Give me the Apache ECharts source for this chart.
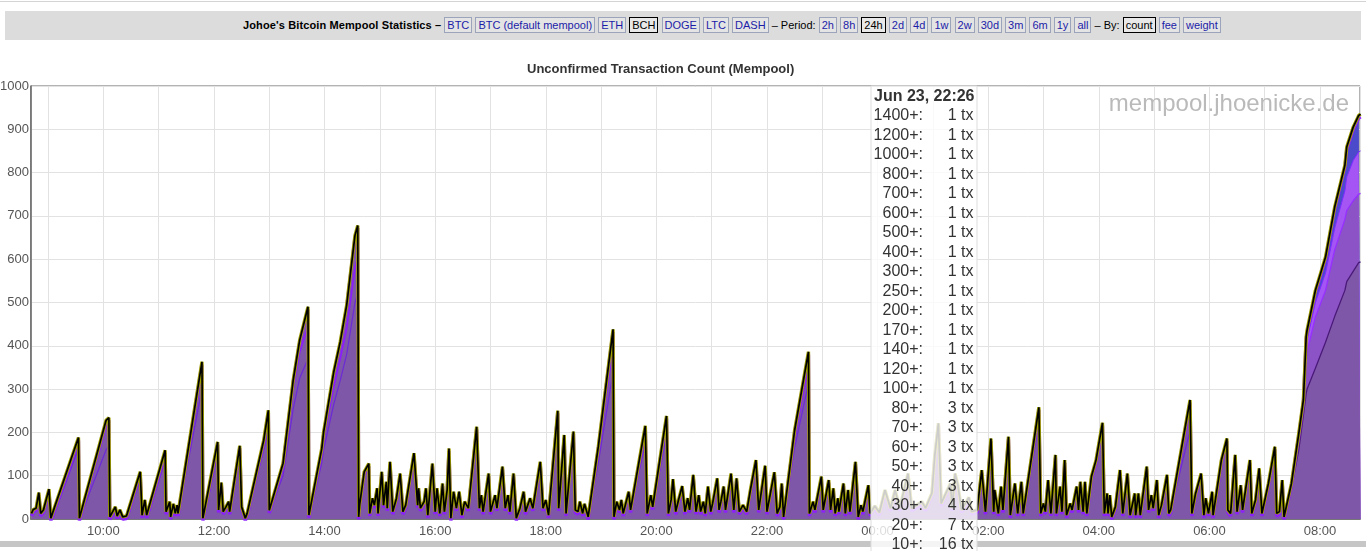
<!DOCTYPE html>
<html>
<head>
<meta charset="utf-8">
<script src="https://cdn.jsdelivr.net/npm/echarts@6/dist/echarts.min.js"></script>
<style>
  html, body { margin:0; padding:0; background:#fff; width:1366px; height:551px; overflow:hidden; }
  #topline { position:absolute; left:0; top:1px; width:1366px; height:1px; background:#d4d4d4; }
  #hdr { position:absolute; left:5px; top:11px; width:1356px; height:29px; background:#dcdcdc; z-index:2;
         font:11px 'Liberation Sans', Arial, sans-serif; color:#000; }
  #hdr .inner { position:absolute; left:238px; top:6px; white-space:nowrap; }
  #hdr b { letter-spacing:0.12px; }
  #hdr a { display:inline-block; border:1px solid #9ba4bb; padding:0 2px; color:#1c1ca8; background:#e4e4e4; line-height:14px; }
  #hdr a.sel { border-color:#000; color:#000; background:#e8e8e8; }
  #chart { position:absolute; left:0; top:0; width:1366px; height:551px; }
</style>
</head>
<body>
<div id="topline"></div>
<div id="chart"></div>
<div id="hdr"><span class="inner"><b>Johoe's Bitcoin Mempool Statistics –</b> <a>BTC</a> <a>BTC (default mempool)</a> <a>ETH</a> <a class="sel">BCH</a> <a>DOGE</a> <a>LTC</a> <a>DASH</a> – Period: <a>2h</a> <a>8h</a> <a class="sel">24h</a> <a>2d</a> <a>4d</a> <a>1w</a> <a>2w</a> <a>30d</a> <a>3m</a> <a>6m</a> <a>1y</a> <a>all</a> – By: <a class="sel">count</a> <a>fee</a> <a>weight</a></span></div>
<script>
// time in minutes since Jun 22 00:00, value = unconfirmed tx count
const totalPts = [[522,13],[524,22],[527,25],[530,61],[532,13],[535,21],[537,25],[541,69],[543,2],[545,2],[573,188],[574,2],[575,5],[603,228],[606,234],[607,5],[613,28],[615,7],[618,21],[621,5],[625,7],[626,13],[640,109],[642,9],[645,44],[647,9],[649,13],[667,159],[668,17],[672,40],[673,5],[676,35],[678,13],[680,32],[681,13],[707,363],[708,2],[709,2],[724,178],[725,21],[728,84],[730,17],[733,28],[736,40],[737,17],[748,169],[750,28],[752,32],[754,2],[756,13],[774,182],[779,251],[780,20],[795,129],[806,321],[813,413],[822,490],[823,9],[824,13],[837,163],[839,201],[850,340],[857,409],[864,494],[873,655],[876,678],[877,5],[878,32],[883,109],[888,128],[889,13],[892,48],[894,32],[897,71],[898,13],[902,109],[904,32],[907,86],[908,25],[911,132],[914,17],[918,48],[922,105],[925,17],[928,32],[937,152],[941,32],[942,71],[944,25],[948,40],[950,71],[952,9],[957,128],[960,17],[962,71],[965,13],[968,82],[970,17],[973,67],[975,163],[977,2],[980,63],[983,25],[986,63],[989,9],[992,40],[996,25],[1005,213],[1008,25],[1010,55],[1012,17],[1018,105],[1020,17],[1025,55],[1027,25],[1033,121],[1036,25],[1039,55],[1041,17],[1045,105],[1048,2],[1052,25],[1056,63],[1058,17],[1063,48],[1066,25],[1074,132],[1077,25],[1080,44],[1083,9],[1093,250],[1094,25],[1100,194],[1102,13],[1110,202],[1112,21],[1115,17],[1117,40],[1120,13],[1122,35],[1126,5],[1137,167],[1153,438],[1154,5],[1157,40],[1160,21],[1162,44],[1164,13],[1170,63],[1172,21],[1188,215],[1190,13],[1194,55],[1196,28],[1211,238],[1213,13],[1216,44],[1218,92],[1221,17],[1224,44],[1228,76],[1231,17],[1234,48],[1236,21],[1240,102],[1243,17],[1246,55],[1248,17],[1251,40],[1253,13],[1256,75],[1259,17],[1261,36],[1266,94],[1268,21],[1270,40],[1273,75],[1275,21],[1281,105],[1284,21],[1287,94],[1290,17],[1294,32],[1298,17],[1302,67],[1308,136],[1311,21],[1318,123],[1320,17],[1328,108],[1331,13],[1334,28],[1336,82],[1338,5],[1350,205],[1365,386],[1366,13],[1370,40],[1372,21],[1379,98],[1381,21],[1387,90],[1389,21],[1392,71],[1394,13],[1397,48],[1398,17],[1403,82],[1405,13],[1408,67],[1410,17],[1416,132],[1419,5],[1422,32],[1424,17],[1430,78],[1432,13],[1437,30],[1442,15],[1448,67],[1454,25],[1459,67],[1464,25],[1473,105],[1477,25],[1488,40],[1492,25],[1499,60],[1502,145],[1506,221],[1509,36],[1519,82],[1521,25],[1524,105],[1527,80],[1531,21],[1539,50],[1542,17],[1548,21],[1553,113],[1557,17],[1563,186],[1566,17],[1567,67],[1571,13],[1574,75],[1576,21],[1582,190],[1584,9],[1589,82],[1592,13],[1596,86],[1598,13],[1615,258],[1617,13],[1620,36],[1622,17],[1625,90],[1628,13],[1633,148],[1634,13],[1638,75],[1640,17],[1643,136],[1645,9],[1649,36],[1651,21],[1656,75],[1658,21],[1660,86],[1663,17],[1665,86],[1667,13],[1672,98],[1677,136],[1684,222],[1686,13],[1689,59],[1690,13],[1692,55],[1694,5],[1698,28],[1703,113],[1706,13],[1711,105],[1714,9],[1719,59],[1720,9],[1723,59],[1725,9],[1732,121],[1734,21],[1737,55],[1739,25],[1743,90],[1745,9],[1748,32],[1754,102],[1756,13],[1758,21],[1779,275],[1781,13],[1785,59],[1791,105],[1794,9],[1796,48],[1799,13],[1803,63],[1804,9],[1813,136],[1819,186],[1820,21],[1823,13],[1828,148],[1830,17],[1834,78],[1836,21],[1844,136],[1846,13],[1850,44],[1854,117],[1857,13],[1864,82],[1871,167],[1873,13],[1876,17],[1879,90],[1881,5],[1889,82],[1897,198],[1902,275],[1905,421],[1906,436],[1915,528],[1926,605],[1936,721],[1947,817],[1949,859],[1956,905],[1962,932],[1964,935]];

// upper fee-level lines visible inside the large ramps
const violetHiSegs = [
  [[545,2],[573,178]], [[575,5],[603,215],[606,222]], [[626,13],[640,100]], [[649,13],[667,150]],
  [[681,13],[707,340]], [[709,2],[724,165]], [[737,17],[748,158]], [[756,13],[774,172],[779,236]],
  [[780,20],[795,118],[806,300],[813,385],[822,445]],
  [[824,12],[837,150],[839,185],[850,305],[857,370],[864,440],[873,580],[876,605]],
  [[996,25],[1005,195]], [[1083,9],[1093,230]],
  [[1126,5],[1137,150],[1153,400]], [[1172,21],[1188,195]], [[1196,28],[1211,220]],
  [[1338,5],[1350,185],[1365,355]], [[1598,13],[1615,240]], [[1758,21],[1779,248]]
];
const violetLoSegs = [
  [[545,2],[573,163]], [[575,5],[603,160],[606,169]], [[626,12],[640,88]], [[649,12],[667,135]],
  [[681,12],[707,300]], [[709,2],[724,150]], [[737,16],[748,145]], [[756,12],[774,160],[779,205]],
  [[780,18],[795,100],[806,255],[813,325],[822,370]],
  [[824,10],[837,130],[839,160],[850,265],[857,320],[864,380],[873,500],[876,520]],
  [[1126,5],[1137,130],[1153,340]], [[1172,20],[1188,175]], [[1196,26],[1211,195]],
  [[1338,5],[1350,165],[1365,313]], [[1598,12],[1615,220]], [[1758,20],[1779,205]]
];

// final ramp: fee-level band boundaries
const finalMin      = [1881,1889,1897,1902,1905,1906,1915,1926,1936,1947,1949,1956,1962,1964];
const blueBandLow   = [5, 80, 192, 268, 405, 414, 500, 568, 672, 758, 790, 828, 848, 850];
const violetBandLow = [5, 78, 185, 258, 372, 386, 466, 528, 622, 692, 712, 735, 750, 752];
const purpleBase    = [5, 70, 160, 240, 290, 300, 348, 408, 468, 528, 548, 572, 592, 594];

// hover legend
const tipTitle  = 'Jun 23, 22:26';
const tipLevels = ['1400+:','1200+:','1000+:','800+:','700+:','600+:','500+:','400+:','300+:','250+:','200+:','170+:','140+:','120+:','100+:','80+:','70+:','60+:','50+:','40+:','30+:','20+:','10+:'];
const tipCounts = ['1 tx','1 tx','1 tx','1 tx','1 tx','1 tx','1 tx','1 tx','1 tx','1 tx','1 tx','1 tx','1 tx','1 tx','1 tx','3 tx','3 tx','3 tx','3 tx','3 tx','4 tx','7 tx','16 tx'];

const BASE = Date.UTC(2018, 5, 22);
const MIN = 60000;
const FONT = "'Liberation Sans', Arial, sans-serif";
const toData = pts => pts.map(p => [BASE + p[0] * MIN, p[1]]);
function segData(segs) {
  const out = [];
  segs.forEach((s, i) => {
    if (i) out.push([BASE + (s[0][0] - 0.5) * MIN, '-']);
    s.forEach(p => out.push([BASE + p[0] * MIN, p[1]]));
  });
  return out;
}
const zipFinal = arr => finalMin.map((m, i) => [BASE + m * MIN, arr[i]]);
const finalTop = toData(totalPts.filter(p => p[0] >= finalMin[0]));
const pad = n => (n < 10 ? '0' : '') + n;

const chart = echarts.init(document.getElementById('chart'), null, { renderer: 'canvas' });

const common = { type: 'line', symbol: 'none', showSymbol: false, animation: false, silent: true, connectNulls: false };

const graphics = [
  { type: 'text', z: 1, x: 1349, y: 104,
    style: { text: 'mempool.jhoenicke.de', font: '24px ' + FONT, fill: '#bababa', align: 'right', verticalAlign: 'middle' } },
  { type: 'rect', z: 50, shape: { x: 0, y: 541, width: 1366, height: 6 }, style: { fill: '#c6c6c6' } },
  { type: 'rect', z: 100, shape: { x: 871, y: 86, width: 106, height: 470 },
    style: { fill: 'rgba(255,255,255,0.8)', stroke: '#dddddd', lineWidth: 1 } },
  { type: 'text', z: 101, x: 874, y: 97,
    style: { text: tipTitle, font: 'bold 16px ' + FONT, fill: '#333', align: 'left', verticalAlign: 'middle' } }
];
tipLevels.forEach((lv, i) => {
  const y = 115.7 + i * 19.5;
  graphics.push({ type: 'text', z: 101, x: 923, y: y,
    style: { text: lv, font: '16px ' + FONT, fill: '#333', align: 'right', verticalAlign: 'middle' } });
  graphics.push({ type: 'text', z: 101, x: 973.5, y: y,
    style: { text: tipCounts[i], font: '16px ' + FONT, fill: '#333', align: 'right', verticalAlign: 'middle' } });
});

chart.setOption({
  useUTC: true,
  animation: false,
  title: {
    text: 'Unconfirmed Transaction Count (Mempool)', left: 527, top: 63, padding: 0,
    textStyle: { fontSize: 13, fontWeight: 'bold', color: '#333', fontFamily: FONT }
  },
  grid: { left: 31, right: 6, top: 86, bottom: 32, show: true, borderColor: '#666', borderWidth: 1,
          backgroundColor: 'transparent', containLabel: false, outerBoundsMode: 'none' },
  xAxis: {
    type: 'time',
    min: BASE + 521.5 * MIN, max: BASE + 1963.4 * MIN,
    minInterval: 2 * 3600 * 1000, maxInterval: 2 * 3600 * 1000,
    axisLine: { show: true, lineStyle: { color: '#777', width: 2 } },
    axisTick: { show: false },
    splitLine: { show: true, lineStyle: { color: '#e2e2e2', width: 1 } },
    axisLabel: {
      showMinLabel: false, showMaxLabel: false, hideOverlap: false,
      color: '#555', fontSize: 13, fontFamily: FONT, margin: 6,
      formatter: function (v) {
        const d = new Date(v);
        if (d.getUTCMinutes() !== 0 || d.getUTCHours() % 2 !== 0) return '';
        return pad(d.getUTCHours()) + ':' + pad(d.getUTCMinutes());
      }
    }
  },
  yAxis: {
    type: 'value', min: 0, max: 1000, interval: 100,
    axisLine: { show: true, lineStyle: { color: '#666', width: 1.5 } },
    axisTick: { show: false },
    splitLine: { show: true, lineStyle: { color: '#e2e2e2', width: 1 } },
    axisLabel: { color: '#555', fontSize: 13, fontFamily: FONT, margin: 2, formatter: v => String(v) }
  },
  graphic: graphics,
  series: [
    Object.assign({}, common, { name: 'all', data: toData(totalPts), lineStyle: { width: 0 },
      areaStyle: { color: '#7f57a8', opacity: 1 }, z: 2 }),
    Object.assign({}, common, { name: 'lo', data: segData(violetLoSegs), lineStyle: { color: '#6c2ad6', width: 1.2 }, z: 3 }),
    Object.assign({}, common, { name: 'hi', data: segData(violetHiSegs), lineStyle: { color: '#8c1cff', width: 1.6 }, z: 3 }),
    Object.assign({}, common, { name: 'fTop', data: finalTop, lineStyle: { width: 0 }, areaStyle: { color: '#4a4acb', opacity: 1 }, z: 3 }),
    Object.assign({}, common, { name: 'fViolet', data: zipFinal(blueBandLow), lineStyle: { color: '#7a2cff', width: 1 }, areaStyle: { color: '#a455f4', opacity: 1 }, z: 3 }),
    Object.assign({}, common, { name: 'fMid', data: zipFinal(violetBandLow), lineStyle: { color: '#9630ff', width: 1.3 }, areaStyle: { color: '#8c53c6', opacity: 1 }, z: 3 }),
    Object.assign({}, common, { name: 'fBase', data: zipFinal(purpleBase), lineStyle: { color: '#4a1a78', width: 1.3 }, areaStyle: { color: '#7f57a8', opacity: 1 }, z: 3 }),
    Object.assign({}, common, { name: 'edge', data: toData(totalPts),
      lineStyle: { color: '#a3a300', width: 3.4, shadowColor: 'rgba(140,30,255,0.95)', shadowBlur: 0, shadowOffsetY: 2.6 }, z: 4 }),
    Object.assign({}, common, { name: 'top', data: toData(totalPts), lineStyle: { color: '#000', width: 1.7 }, z: 5 })
  ]
});
</script>
</body>
</html>
